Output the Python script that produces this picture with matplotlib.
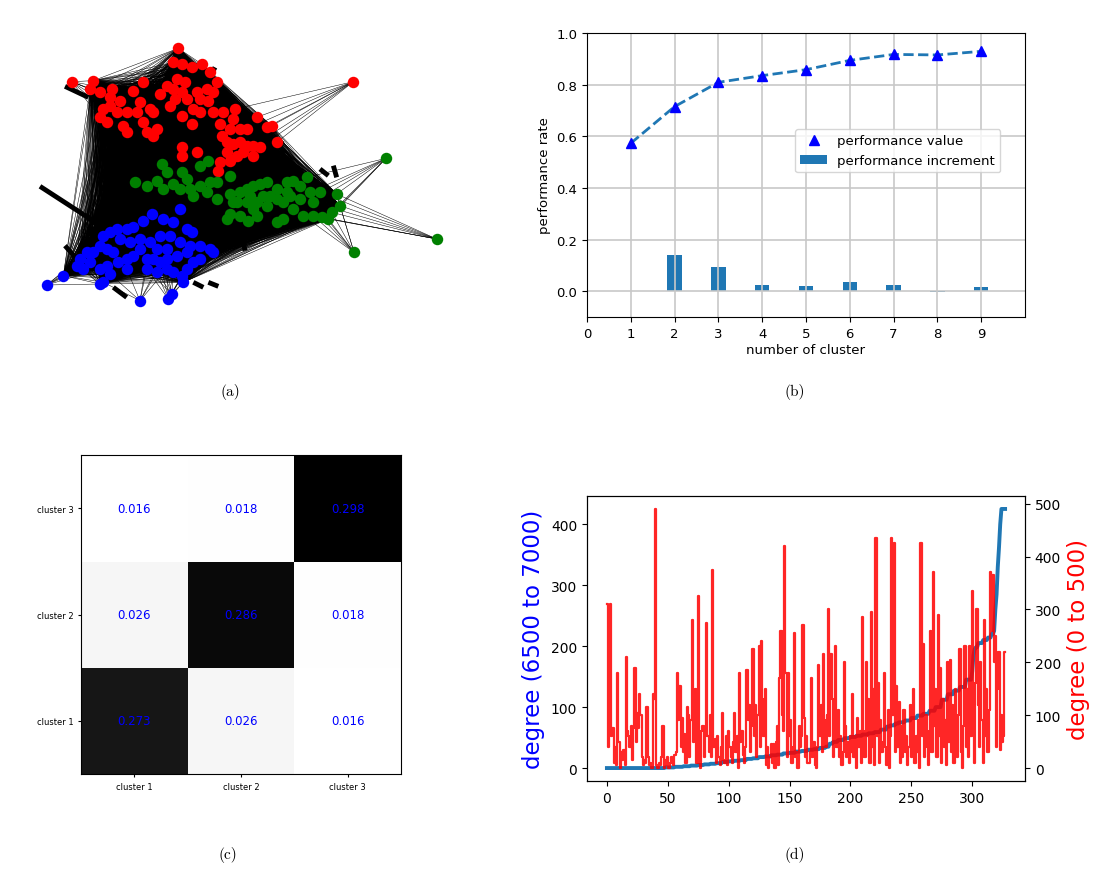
import itertools
import matplotlib
matplotlib.use('Agg')
import matplotlib.pyplot as plt
import numpy as np
from matplotlib.collections import LineCollection

# ---------------- (a) network layout (positions) ----------------
red_nodes = [(535, 58), (520, 100), (545, 105), (575, 115), (605, 105), (630, 130), (650, 160),
             (530, 150), (555, 160), (545, 190), (525, 210), (510, 230), (560, 210), (590, 190),
             (600, 210), (625, 215), (580, 240), (545, 260), (575, 285), (600, 250), (520, 180),
             (280, 155), (270, 180), (300, 190), (335, 180), (330, 205), (360, 215), (400, 185),
             (430, 160), (420, 220), (450, 240), (460, 250), (310, 240), (330, 230), (350, 250),
             (380, 250), (300, 265), (320, 280), (370, 290), (380, 310), (430, 280), (440, 310),
             (460, 320), (470, 300), (410, 250), (705, 240), (770, 265), (800, 295), (815, 290),
             (830, 340), (700, 270), (720, 300), (740, 300), (660, 285), (690, 300), (665, 320),
             (680, 340), (700, 345), (720, 340), (740, 350), (760, 350), (780, 355), (760, 380),
             (730, 370), (710, 380), (680, 370), (660, 400), (690, 395), (655, 425), (545, 355),
             (590, 370), (545, 380), (500, 170), (480, 195), (620, 180), (640, 190), (640, 250),
             (670, 250)]
red_outliers = [(1060, 158), (215, 158)]

green_nodes = [(405, 460), (440, 470), (470, 455), (485, 405), (500, 430), (490, 480), (520, 465),
               (545, 430), (560, 450), (540, 480), (570, 480), (580, 500), (600, 470), (600, 410),
               (625, 395), (630, 460), (650, 460), (650, 510), (620, 490), (690, 440), (690, 495),
               (720, 490), (740, 480), (760, 470), (780, 465), (800, 460), (810, 500), (830, 480),
               (860, 460), (880, 455), (900, 470), (920, 445), (930, 490), (960, 490), (1010, 495),
               (1020, 530), (995, 550), (985, 570), (965, 565), (940, 560), (910, 560), (880, 540),
               (850, 520), (830, 510), (830, 580), (850, 570), (800, 530), (770, 520), (740, 520),
               (710, 520), (690, 555), (720, 560), (745, 575), (770, 560), (700, 520), (750, 500),
               (870, 500), (900, 510), (860, 490), (680, 570), (760, 540), (790, 500), (940, 520)]
green_outliers = [(1158, 388), (1310, 630), (1062, 670)]

blue_nodes = [(540, 540), (455, 555), (490, 570), (520, 580), (560, 600), (575, 610), (430, 575),
              (400, 595), (380, 600), (350, 600), (330, 610), (310, 620), (360, 630), (390, 640),
              (420, 630), (450, 640), (480, 620), (510, 620), (540, 640), (570, 650), (600, 650),
              (630, 660), (640, 670), (600, 690), (580, 700), (560, 720), (545, 740), (520, 730),
              (500, 720), (480, 700), (460, 690), (440, 690), (420, 660), (400, 680), (380, 690),
              (355, 700), (340, 670), (320, 660), (300, 650), (280, 670), (260, 670), (240, 690),
              (230, 710), (250, 720), (270, 700), (300, 720), (320, 710), (330, 735), (300, 765),
              (310, 760), (190, 740), (470, 660), (500, 660), (530, 680), (440, 720), (470, 730),
              (550, 760), (500, 690), (560, 670), (380, 720)]
blue_outliers = [(140, 768), (420, 815), (505, 810), (515, 795)]

heavy_edges = [((120, 472), (305, 592)), ((195, 172), (265, 205)), ((632, 140), (645, 115)),
               ((525, 70), (532, 100)), ((960, 420), (985, 440)), ((1000, 410), (1010, 445)),
               ((725, 610), (735, 665)), ((340, 775), (380, 805)), ((580, 760), (610, 775)),
               ((625, 760), (655, 772)), ((195, 650), (230, 690)), ((820, 330), (850, 345))]

# ---------------- (b) performance ----------------
n_cluster = [1, 2, 3, 4, 5, 6, 7, 8, 9]
perf_value = [0.573, 0.715, 0.809, 0.835, 0.858, 0.894, 0.917, 0.915, 0.929]
perf_increment = [0.0, 0.142, 0.093, 0.025, 0.019, 0.034, 0.023, -0.003, 0.016]

# ---------------- (c) cluster matrix ----------------
cluster_labels = ['cluster 1', 'cluster 2', 'cluster 3']
cluster_matrix = [[0.273, 0.026, 0.016],
                  [0.026, 0.286, 0.018],
                  [0.016, 0.018, 0.298]]

# ---------------- (d) degrees ----------------
blue_levels = [0, 1, 2, 3, 4, 5, 6, 7, 8, 10, 11, 12, 13, 15, 16, 18, 19, 21, 22, 24, 25, 27, 28,
               30, 31, 33, 35, 40, 43, 46, 49, 51, 53, 55, 57, 59, 63, 68, 70, 73, 75, 78, 82, 86,
               89, 94, 100, 112, 121, 127, 133, 145, 158, 185, 195, 198, 205, 210, 214, 220, 225,
               260, 285, 330, 362, 400, 425]
blue_counts = [48, 8, 7, 6, 6, 5, 5, 5, 5, 5, 5, 5, 5, 5, 5, 5, 5, 5, 5, 5, 5, 5, 5,
               5, 5, 5, 3, 3, 4, 5, 5, 5, 5, 5, 5, 5, 5, 3, 4, 3, 5, 5, 5, 5,
               5, 5, 5, 5, 5, 5, 5, 5, 1, 1, 1, 2, 4, 4, 3, 2, 1,
               1, 1, 1, 1, 1, 4]
red_degree = [310, 40, 85, 310, 60, 75, 10, 40, 5, 180,
              50, 0, 30, 15, 35, 5, 210, 70, 60, 40,
              80, 15, 75, 190, 50, 105, 75, 140, 100, 20,
              5, 15, 10, 115, 20, 5, 10, 0, 140, 130,
              490, 5, 0, 10, 5, 20, 80, 0, 15, 5,
              20, 0, 10, 20, 15, 5, 25, 30, 180, 90,
              155, 40, 95, 30, 65, 10, 115, 100, 20, 90,
              280, 50, 100, 150, 10, 325, 60, 0, 70, 80,
              20, 60, 275, 60, 30, 100, 20, 375, 40, 55,
              10, 60, 20, 5, 40, 105, 15, 10, 60, 5,
              70, 40, 20, 10, 50, 105, 30, 60, 0, 180,
              50, 70, 25, 10, 40, 185, 90, 120, 30, 80,
              225, 60, 120, 20, 100, 230, 40, 240, 130, 60,
              150, 5, 40, 0, 20, 45, 10, 45, 0, 50,
              80, 5, 170, 260, 100, 70, 420, 180, 20, 180,
              60, 90, 10, 40, 255, 20, 30, 0, 80, 40,
              60, 270, 95, 20, 60, 10, 10, 30, 170, 20,
              50, 5, 0, 40, 195, 60, 120, 30, 215, 90,
              40, 100, 300, 60, 215, 130, 20, 80, 230, 40,
              110, 20, 60, 5, 30, 200, 80, 20, 50, 10,
              60, 30, 140, 20, 60, 0, 95, 40, 70, 10,
              285, 70, 20, 200, 60, 130, 10, 295, 40, 150,
              5, 435, 60, 160, 10, 90, 30, 50, 180, 40,
              5, 110, 0, 60, 435, 100, 425, 30, 155, 40,
              125, 10, 80, 20, 110, 30, 60, 5, 40, 120,
              20, 80, 150, 10, 60, 30, 90, 0, 425, 60,
              235, 20, 100, 40, 5, 70, 260, 30, 370, 80,
              150, 20, 290, 60, 190, 10, 130, 40, 90, 5,
              200, 50, 205, 30, 120, 10, 150, 60, 20, 100,
              225, 30, 0, 80, 230, 40, 150, 20, 230, 60,
              335, 100, 10, 160, 300, 120, 40, 200, 90, 10,
              280, 60, 150, 30, 110, 370, 260, 365, 200, 250,
              40, 150, 220, 35, 100, 50, 60, 220]

W, H = 1096.0, 879.0


def box(left, top, right, bottom):
    return [left / W, 1 - bottom / H, (right - left) / W, (bottom - top) / H]


fig = plt.figure(figsize=(W / 100, H / 100), dpi=100)

# ---- (a)
ax = fig.add_axes(box(0, 30, 470, 330))
core = np.array(red_nodes + green_nodes + blue_nodes, dtype=float)
segs = [(core[i], core[j]) for i, j in itertools.combinations(range(len(core)), 2)]
for outs, nodes in [(red_outliers, red_nodes), (green_outliers, green_nodes), (blue_outliers, blue_nodes)]:
    pts = np.array(nodes, dtype=float)
    for o in outs:
        d = np.hypot(pts[:, 0] - o[0], pts[:, 1] - o[1])
        for k in np.argsort(d)[:8]:
            segs.append((np.array(o, dtype=float), pts[k]))
ax.add_collection(LineCollection(segs, colors='k', linewidths=0.35))
ax.add_collection(LineCollection(heavy_edges, colors='k', linewidths=3.5))
for nodes, outs, col in [(red_nodes, red_outliers, 'r'), (green_nodes, green_outliers, 'g'),
                         (blue_nodes, blue_outliers, 'b')]:
    pts = np.array(nodes + outs)
    ax.scatter(pts[:, 0], pts[:, 1], s=68, c=col, zorder=3, linewidths=0)
ax.set_xlim(0, 1410)
ax.set_ylim(900, 0)
ax.axis('off')

# ---- (b)
ax = fig.add_axes(box(587, 34, 1025, 318))
ax.plot(n_cluster, perf_value, '--', color='C0', lw=2)
ax.plot(n_cluster, perf_value, '^', color='b', ms=7, label='performance value')
ax.bar(n_cluster, perf_increment, width=0.33, color='C0', label='performance increment')
ax.set_xlim(0, 10)
ax.set_ylim(-0.1, 1.0)
ax.set_xticks(range(10))
ax.grid(True, color='#c8c8c8', lw=1.2)
ax.tick_params(labelsize=9.5)
ax.set_xlabel('number of cluster', fontsize=9.5, labelpad=2)
ax.set_ylabel('performance rate', fontsize=9.5)
ax.legend(loc='upper left', bbox_to_anchor=(0.46, 0.685), fontsize=9.5)

# ---- (c)
ax = fig.add_axes(box(81, 456, 401, 775))
ax.imshow(np.array(cluster_matrix), cmap='gray_r', origin='lower', aspect='auto')
ax.set_xticks(range(3))
ax.set_yticks(range(3))
ax.set_xticklabels(cluster_labels, fontsize=6)
ax.set_yticklabels(cluster_labels, fontsize=6)
ax.tick_params(length=2)
for i in range(3):
    for j in range(3):
        ax.text(j, i, '%.3f' % cluster_matrix[i][j], ha='center', va='center', color='b', fontsize=8.5)

# ---- (d)
blue_degree = np.repeat(blue_levels, blue_counts)
idx = np.arange(len(red_degree))
ax1 = fig.add_axes(box(587, 497, 1025, 782))
ax1.plot(idx, blue_degree, color='C0', lw=2.8)
ax1.set_ylabel('degree (6500 to 7000)', color='b', fontsize=16.5)
ax1.tick_params(labelsize=10)
ax2 = ax1.twinx()
ax2.plot(idx, red_degree, color='r', lw=1.6, alpha=0.85, drawstyle='steps-mid')
ax2.set_ylabel('degree (0 to 500)', color='r', fontsize=16.5)
ax2.tick_params(labelsize=10)

# captions
for label, x, y in [('(a)', 230, 392), ('(b)', 795, 392), ('(c)', 228, 855), ('(d)', 795, 855)]:
    fig.text(x / W, 1 - y / H, label, ha='center', va='center', fontfamily='cmr10', fontsize=11)

fig.savefig('out.png', dpi=100)
